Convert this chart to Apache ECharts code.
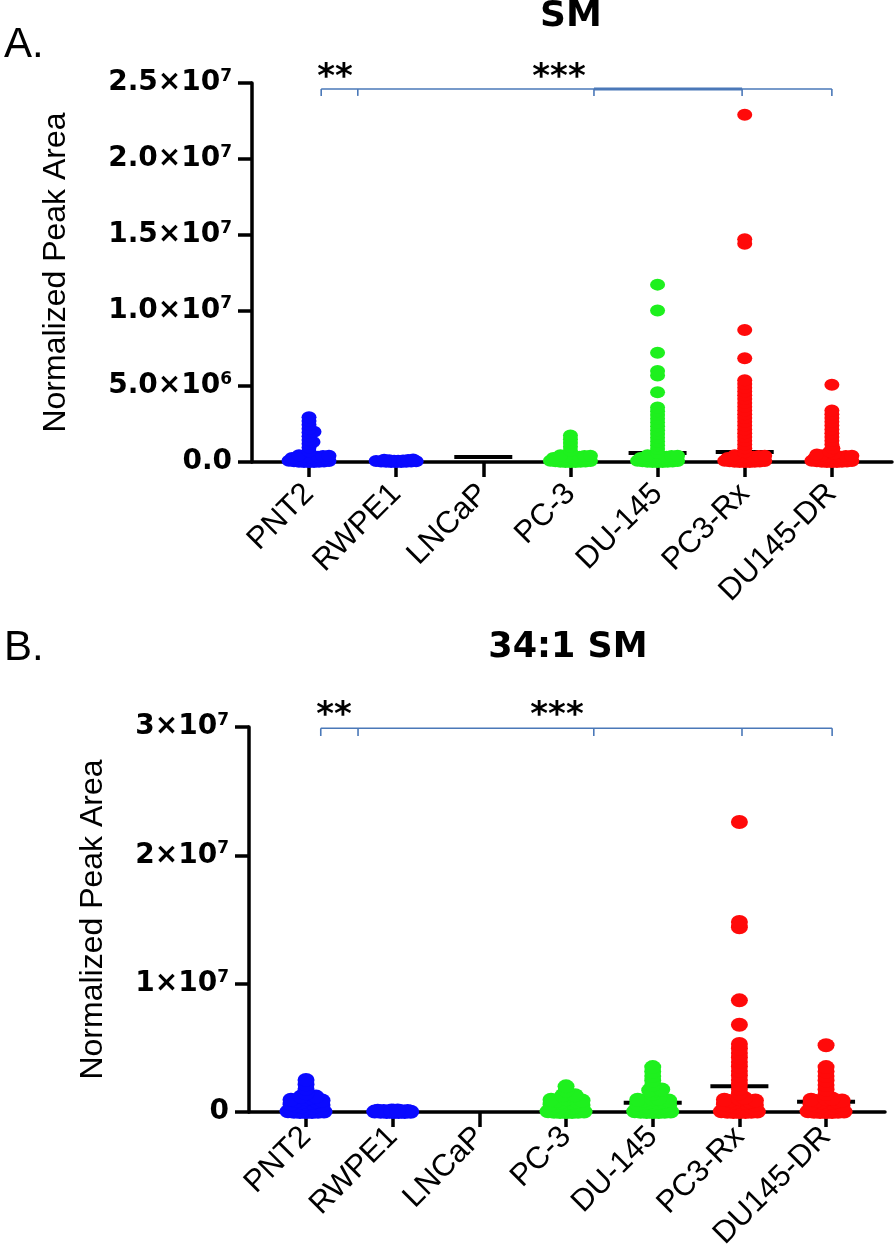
<!DOCTYPE html>
<html><head><meta charset="utf-8">
<script src="https://cdn.jsdelivr.net/npm/echarts@6/dist/echarts.min.js"></script>
<style>html,body{margin:0;padding:0;background:#fff}#c{width:896px;height:1252px}</style>
</head><body><div id="c"></div>
<script>
// ---------- DATA ----------
const categories = ['PNT2', 'RWPE1', 'LNCaP', 'PC-3', 'DU-145', 'PC3-Rx', 'DU145-DR'];

// Panel A: SM  (normalized peak area, in millions)
const smPNT2   = [2.95, 2.7, 2.45, 2.2, 2.0, 1.95, 1.7, 1.45, 1.32, 1.2, 0.95, 0.7,
                  0.45, 0.42, 0.4, 0.37, 0.35, 0.32, 0.3, 0.27, 0.25, 0.22, 0.2, 0.18, 0.15, 0.13, 0.1, 0.08, 0.06, 0.05, 0.03, 0.02, 0.01, 0, 0, 0];
const smRWPE1  = [0.16, 0.15, 0.13, 0.12, 0.1, 0.09, 0.08, 0.06, 0.05, 0.04, 0.03, 0.02, 0.01, 0, 0, 0];
const smLNCaP  = [];
const smPC3    = [1.75, 1.5, 1.25, 1.0, 0.75,
                  0.45, 0.42, 0.4, 0.37, 0.35, 0.32, 0.3, 0.27, 0.25, 0.22, 0.2, 0.18, 0.15, 0.13, 0.1, 0.08, 0.06, 0.05, 0.03, 0.02, 0.01, 0, 0, 0];
const smDU145  = [11.7, 10.0, 7.2, 6.0, 5.7, 4.6, 3.6, 3.35, 3.1, 2.85, 2.6, 2.35, 2.1, 1.85, 1.6, 1.35, 1.1, 0.85, 0.6,
                  0.45, 0.42, 0.4, 0.37, 0.35, 0.32, 0.3, 0.27, 0.25, 0.22, 0.2, 0.18, 0.15, 0.13, 0.1, 0.08, 0.06, 0.05, 0.03, 0.02, 0.01, 0, 0, 0];
const smPC3Rx  = [22.9, 14.7, 14.4, 8.7, 6.85, 5.4, 5.15, 4.9, 4.65, 4.4, 4.15, 3.9, 3.65, 3.4, 3.15, 2.9, 2.65, 2.4, 2.15, 1.9, 1.65, 1.4, 1.15, 0.9, 0.65,
                  0.45, 0.42, 0.4, 0.37, 0.35, 0.32, 0.3, 0.27, 0.25, 0.22, 0.2, 0.18, 0.15, 0.13, 0.1, 0.08, 0.06, 0.05, 0.03, 0.02, 0.01, 0, 0, 0];
const smDU145DR= [5.1, 3.4, 3.15, 2.9, 2.65, 2.4, 2.15, 1.9, 1.65, 1.4, 1.15, 0.9, 0.7,
                  0.55, 0.5, 0.45, 0.42, 0.4, 0.37, 0.35, 0.32, 0.3, 0.27, 0.25, 0.22, 0.2, 0.18, 0.15, 0.13, 0.1, 0.08, 0.06, 0.05, 0.03, 0.02, 0.01, 0, 0, 0];
const smMedians = [null, null, 0.33, null, 0.6, 0.66, null];
const smTickLabels = ['0.0', '5.0×10^6', '1.0×10^7', '1.5×10^7', '2.0×10^7', '2.5×10^7'];

// Panel B: 34:1 SM (in millions)
const bPNT2    = [2.5, 2.15, 1.8, 1.45, 1.2, 1.2, 1.1,
                  1.0, 0.95, 0.9, 0.85, 0.8, 0.75, 0.7, 0.65, 0.6, 0.55, 0.5, 0.45, 0.4, 0.35, 0.3, 0.25, 0.2, 0.15, 0.12, 0.1, 0.08, 0.05, 0.03, 0.02, 0.01, 0, 0, 0];
const bRWPE1   = [0.12, 0.11, 0.1, 0.09, 0.08, 0.07, 0.06, 0.05, 0.04, 0.03, 0.02, 0.01, 0, 0, 0, 0];
const bLNCaP   = [];
const bPC3     = [2.0, 1.65, 1.3, 1.3, 1.3,
                  1.0, 0.95, 0.9, 0.85, 0.8, 0.75, 0.7, 0.65, 0.6, 0.55, 0.5, 0.45, 0.4, 0.35, 0.3, 0.25, 0.2, 0.15, 0.12, 0.1, 0.08, 0.05, 0.03, 0.02, 0.01, 0, 0, 0];
const bDU145   = [3.5, 3.15, 2.8, 2.45, 2.1, 1.75, 1.7, 1.7, 1.4, 1.05,
                  1.0, 0.95, 0.9, 0.85, 0.8, 0.75, 0.7, 0.65, 0.6, 0.55, 0.5, 0.45, 0.4, 0.35, 0.3, 0.25, 0.2, 0.15, 0.12, 0.1, 0.08, 0.05, 0.03, 0.02, 0.01, 0, 0, 0];
const bPC3Rx   = [22.6, 14.8, 14.4, 8.7, 6.8, 5.3, 4.95, 4.6, 4.25, 3.9, 3.55, 3.2, 2.85, 2.5, 2.15, 1.8, 1.45, 1.1,
                  1.0, 0.95, 0.9, 0.85, 0.8, 0.75, 0.7, 0.65, 0.6, 0.55, 0.5, 0.45, 0.4, 0.35, 0.3, 0.25, 0.2, 0.15, 0.12, 0.1, 0.08, 0.05, 0.03, 0.02, 0.01, 0, 0, 0];
const bDU145DR = [5.2, 3.5, 3.15, 2.8, 2.45, 2.1, 1.75, 1.4, 1.05,
                  1.0, 0.95, 0.9, 0.85, 0.8, 0.75, 0.7, 0.65, 0.6, 0.55, 0.5, 0.45, 0.4, 0.35, 0.3, 0.25, 0.2, 0.15, 0.12, 0.1, 0.08, 0.05, 0.03, 0.02, 0.01, 0, 0, 0];
const bMedians = [null, null, null, null, 0.73, 2.0, 0.8];
const bTickLabels = ['0', '1×10^7', '2×10^7', '3×10^7'];

// ---------- STYLE / LAYOUT ----------
const groupColors = ['#0a0aff', '#0a0aff', '#000000', '#1ef01e', '#1ef01e', '#ff0a0a', '#ff0a0a'];
const bracketColor = '#4a78b8';
const UNIT = 1e6;

const panels = [
  { grid: { left: 252, top: 83, width: 640, height: 379 }, xMin: -0.654, xMax: 6.69,
    yMax: 2.5e7, yInterval: 5e6, tickLabels: smTickLabels, nameGap: 180, labelMargin: 27,
    groups: [smPNT2, smRWPE1, smLNCaP, smPC3, smDU145, smPC3Rx, smDU145DR], medians: smMedians,
    bracketX: [0.14, 0.56, 3.27, 4.97, 6.0], bracketY: [24.6e6, 24.15e6], thick: true,
    dot: [15, 12], maxHalf: 20 },
  { grid: { left: 249, top: 727, width: 636, height: 385 }, xMin: -0.658, xMax: 6.68,
    yMax: 3e7, yInterval: 1e7, tickLabels: bTickLabels, nameGap: 140, labelMargin: 20,
    groups: [bPNT2, bRWPE1, bLNCaP, bPC3, bDU145, bPC3Rx, bDU145DR], medians: bMedians,
    bracketX: [0.17, 0.6, 3.32, 5.03, 6.07], bracketY: [29.9e6, 29.3e6], thick: false,
    dot: [17, 14], maxHalf: 19 }
];

const catIdx = categories.map((c, i) => i);
const rich = {
  b: { fontFamily: 'DejaVu Sans', fontWeight: 'bold', fontSize: 28, color: '#000', lineHeight: 30 },
  s: { fontFamily: 'DejaVu Sans', fontWeight: 'bold', fontSize: 17, color: '#000', verticalAlign: 'top', lineHeight: 17 }
};
function fmtTick(t) {
  if (!t) return '';
  const parts = t.split('^');
  return parts.length > 1 ? '{b|' + parts[0] + '}{s|' + parts[1] + '}' : '{b|' + parts[0] + '}';
}

const chart = echarts.init(document.getElementById('c'));

const series = [];
panels.forEach((p, i) => {
  series.push({
    type: 'custom', xAxisIndex: i, yAxisIndex: i, z: 1, silent: true,
    data: p.medians.map((m, g) => m == null ? null : [g, m * UNIT]).filter(d => d),
    renderItem: (params, api) => {
      const c = api.coord([api.value(0), api.value(1)]);
      return { type: 'line', shape: { x1: c[0] - 29, y1: c[1], x2: c[0] + 29, y2: c[1] },
               style: { stroke: '#000', lineWidth: 4 } };
    }
  });
  p.groups.forEach((vals, g) => {
    series.push({
      id: 'p' + i + 'g' + g, type: 'scatter', xAxisIndex: i, yAxisIndex: i, z: 2, silent: true,
      symbol: 'circle', symbolSize: p.dot, clip: false,
      itemStyle: { color: groupColors[g], opacity: 1 }, data: []
    });
  });
  series.push({
    type: 'custom', xAxisIndex: i, yAxisIndex: i, z: 3, silent: true, clip: false,
    data: [[0, 0]],
    renderItem: (params, api) => {
      const xs = p.bracketX.map(b => api.coord([b, p.bracketY[0]])[0]);
      const yb = api.coord([0, p.bracketY[0]])[1];
      const yt = api.coord([0, p.bracketY[1]])[1];
      const children = [];
      children.push({ type: 'line', shape: { x1: xs[0], y1: yb, x2: xs[xs.length - 1], y2: yb },
                      style: { stroke: bracketColor, lineWidth: 1.6 } });
      if (p.thick) children.push({ type: 'line', shape: { x1: xs[2], y1: yb, x2: xs[3], y2: yb },
                      style: { stroke: bracketColor, lineWidth: 3 } });
      xs.forEach(x => children.push({ type: 'line', shape: { x1: x, y1: yb, x2: x, y2: yt },
                      style: { stroke: bracketColor, lineWidth: 1.6 } }));
      return { type: 'group', children };
    }
  });
});

function txt(text, x, y, font, align) {
  return { type: 'text', x, y, z: 10, style: { text, font, fill: '#000',
    align: align || 'center', verticalAlign: 'middle', textAlign: align || 'center', textVerticalAlign: 'middle' } };
}

const option = {
  animation: false,
  backgroundColor: '#fff',
  grid: panels.map(p => Object.assign({ containLabel: false, outerBoundsMode: 'none' }, p.grid)),
  xAxis: panels.map((p, i) => ({
    gridIndex: i, type: 'value', min: p.xMin, max: p.xMax, splitLine: { show: false },
    axisLine: { show: true, onZero: false, lineStyle: { color: '#000', width: 3.5 } },
    axisTick: { show: true, customValues: catIdx, length: 15, lineStyle: { color: '#000', width: 3.5 } },
    axisLabel: { show: true, customValues: catIdx, formatter: v => categories[Math.round(v)] || '',
      rotate: 45, margin: p.labelMargin, color: '#000', fontFamily: 'Liberation Sans', fontSize: 31 }
  })),
  yAxis: panels.map((p, i) => ({
    gridIndex: i, type: 'value', min: 0, max: p.yMax, interval: p.yInterval, splitLine: { show: false },
    axisLine: { show: true, onZero: false, lineStyle: { color: '#000', width: 3.5 } },
    axisTick: { show: true, length: 14, lineStyle: { color: '#000', width: 3.5 } },
    axisLabel: { margin: 20, formatter: v => fmtTick(p.tickLabels[Math.round(v / p.yInterval)]), rich },
    name: 'Normalized Peak Area', nameLocation: 'middle', nameRotate: 90, nameGap: p.nameGap,
    nameTextStyle: { fontFamily: 'Liberation Sans', fontSize: 32, color: '#000' }
  })),
  graphic: [
    txt('A.', 4, 45, '42px Liberation Sans', 'left'),
    txt('SM', 571, 17, 'bold 36px DejaVu Sans'),
    txt('**', 335, 78, 'bold 34px DejaVu Sans'),
    txt('***', 559, 78, 'bold 34px DejaVu Sans'),
    txt('B.', 4, 648, '42px Liberation Sans', 'left'),
    txt('34:1 SM', 568, 648, 'bold 35px DejaVu Sans'),
    txt('**', 334, 716, 'bold 34px DejaVu Sans'),
    txt('***', 557, 716, 'bold 34px DejaVu Sans')
  ],
  series
};
chart.setOption(option);

// beeswarm layout of the dots (horizontal spread only)
function swarmOffsets(pys, w, h, maxHalf, thr) {
  const placed = [], out = [];
  for (const py of pys) {
    let best = 0, bestD = -1;
    for (let k = 0; k <= 2 * maxHalf; k++) {
      const dx = k === 0 ? 0 : (k % 2 ? 1 : -1) * Math.ceil(k / 2);
      let md = Infinity;
      for (const q of placed) {
        const d = Math.hypot((dx - q[0]) / w, (py - q[1]) / h);
        if (d < md) md = d;
      }
      if (md >= thr) { best = dx; bestD = md; break; }
      if (md > bestD) { bestD = md; best = dx; }
    }
    placed.push([best, py]); out.push(best);
  }
  return out;
}

const update = [];
panels.forEach((p, i) => {
  p.groups.forEach((vals, g) => {
    const sorted = vals.slice().sort((a, b) => a - b);
    const x0 = chart.convertToPixel({ gridIndex: i }, [g, 0])[0];
    const x1 = chart.convertToPixel({ gridIndex: i }, [g + 1, 0])[0];
    const ppu = x1 - x0;
    const pys = sorted.map(v => chart.convertToPixel({ gridIndex: i }, [g, v * UNIT])[1]);
    const offs = swarmOffsets(pys, p.dot[0], p.dot[1], p.maxHalf, 0.3);
    update.push({ id: 'p' + i + 'g' + g, data: sorted.map((v, k) => [g + offs[k] / ppu, v * UNIT]) });
  });
});
chart.setOption({ series: update });
</script>
</body></html>
